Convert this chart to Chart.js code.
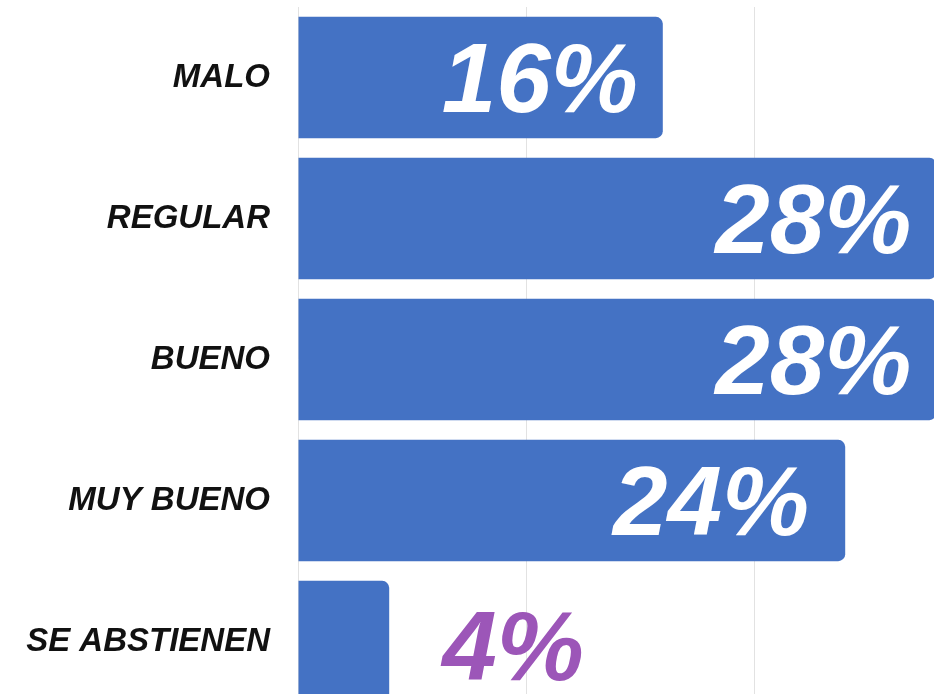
<!DOCTYPE html>
<html>
<head>
<meta charset="utf-8">
<script src="https://cdn.jsdelivr.net/npm/chart.js@4.4.0/dist/chart.umd.min.js"></script>
<style>
        html, body { margin: 0; padding: 0; background: #ffffff; overflow: hidden; }
        #wrap { position: absolute; left: 0; top: 0; width: 990px; height: 712px; }
</style>
</head>
<body>
<div id="wrap"><canvas id="chart_votes"></canvas></div>
<script>
var categories = ["MALO", "REGULAR", "BUENO", "MUY BUENO", "SE ABSTIENEN"];
var percent_values = [16, 28, 28, 24, 4];
var value_labels = ["16%", "28%", "28%", "24%", "4%"];

var bar_color = "#4472C4";
var inside_label_color = "#ffffff";
var outside_label_color = "#9C56B8";

// writes the big percentages on (or next to) every bar
var percent_label_plugin = {
        id: "percent_labels",
        afterDatasetsDraw: function(chart) {
                var ctx = chart.ctx;
                var meta = chart.getDatasetMeta(0);
                ctx.save();
                ctx.font = "italic bold 98px 'Liberation Sans', Arial, sans-serif";
                ctx.textBaseline = "alphabetic";
                for (let i = 0; i < meta.data.length; i++) {
                        var bar = meta.data[i];
                        var value = percent_values[i];
                        if (value >= 10) {
                                ctx.fillStyle = inside_label_color;
                                ctx.textAlign = "right";
                                var pad = value == 24 ? 36 : 25;
                                ctx.fillText(value_labels[i], bar.x - pad, bar.y + 34);
                        } else {
                                ctx.fillStyle = outside_label_color;
                                ctx.textAlign = "left";
                                ctx.fillText(value_labels[i], bar.x + 53, bar.y + 38);
                        }
                }
                ctx.restore();
        }
};

new Chart("chart_votes", {
        type: "bar",
        data: {
                labels: categories,
                datasets: [{
                        data: percent_values,
                        backgroundColor: bar_color,
                        borderColor: bar_color,
                        borderWidth: 0,
                        borderRadius: 7,
                        borderSkipped: "start",
                        barPercentage: 0.86,
                        categoryPercentage: 1
                }]
        },
        options: {
                indexAxis: "y",
                responsive: true,
                maintainAspectRatio: false,
                animation: false,
                layout: {
                        padding: { top: 7, right: 8, bottom: 0, left: 0 }
                },
                plugins: {
                        legend: { display: false },
                        tooltip: { enabled: false }
                },
                scales: {
                        x: {
                                min: 0,
                                max: 30,
                                ticks: { display: false, stepSize: 10 },
                                grid: { color: "#e2e2e2", lineWidth: 1, drawTicks: false },
                                border: { display: false }
                        },
                        y: {
                                afterFit: function(scale) {
                                        scale.width = 298;
                                        scale.paddingTop = 0;
                                        scale.paddingBottom = 0;
                                },
                                ticks: {
                                        padding: 28,
                                        color: "#111111",
                                        font: { family: "'Liberation Sans', Arial, sans-serif", size: 33, weight: "bold", style: "italic" }
                                },
                                grid: { display: false, drawTicks: false },
                                border: { display: false }
                        }
                }
        },
        plugins: [percent_label_plugin]
});
</script>
</body>
</html>
